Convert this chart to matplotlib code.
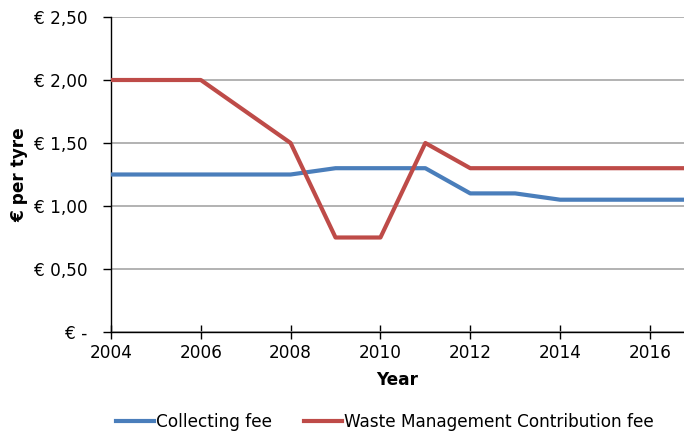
import matplotlib
matplotlib.use("Agg")
import matplotlib.pyplot as plt
from matplotlib.ticker import FuncFormatter

years = [2004, 2005, 2006, 2007, 2008, 2009, 2010, 2011, 2012, 2013, 2014, 2015, 2016, 2017]
collecting_fee = [1.25, 1.25, 1.25, 1.25, 1.25, 1.30, 1.30, 1.30, 1.10, 1.10, 1.05, 1.05, 1.05, 1.05]
wmc_fee = [2.00, 2.00, 2.00, 1.75, 1.50, 0.75, 0.75, 1.50, 1.30, 1.30, 1.30, 1.30, 1.30, 1.30]
x_ticks = [2004, 2006, 2008, 2010, 2012, 2014, 2016]
y_ticks = [0.0, 0.5, 1.0, 1.5, 2.0, 2.5]

blue = "#4a7ebb"
red = "#be4b48"
fs = 12.2

plt.rcParams["font.family"] = ["DejaVu Sans"]

fig = plt.figure(figsize=(6.84, 4.33), dpi=100)
ax = fig.add_axes([111 / 684, 1 - 332 / 433, 1 - 111 / 684, (332 - 17) / 433])

ax.plot(years, collecting_fee, color=blue, lw=3.0, label="Collecting fee", solid_joinstyle="round", zorder=3)
ax.plot(years, wmc_fee, color=red, lw=3.0, label="Waste Management Contribution fee", solid_joinstyle="round", zorder=3)

ax.set_xlim(2004, 2016.76)
ax.set_ylim(0, 2.5)
ax.set_xticks(x_ticks)
ax.set_yticks(y_ticks)


def euro(v, pos):
    if abs(v) < 1e-9:
        return "€ -"
    return "€ " + f"{v:.2f}".replace(".", ",")


ax.yaxis.set_major_formatter(FuncFormatter(euro))
ax.grid(axis="y", color="#a6a6a6", lw=1.2)
ax.set_axisbelow(True)

for side in ("top", "right"):
    ax.spines[side].set_visible(False)
for side in ("left", "bottom"):
    ax.spines[side].set_color("black")
    ax.spines[side].set_linewidth(1.0)

ax.tick_params(axis="y", direction="out", length=6, width=1, labelsize=fs, pad=11, colors="black")
ax.tick_params(axis="x", direction="inout", length=10, width=1, labelsize=fs, pad=4, colors="black")

ax.set_xlabel("Year", fontsize=fs, fontweight="bold", labelpad=6)
ax.set_ylabel("€ per tyre", fontsize=fs, fontweight="bold", labelpad=4)

fig.legend(loc="center", bbox_to_anchor=(0.563, 0.026), ncol=2, frameon=False,
           fontsize=fs, handlelength=2.2, handletextpad=0.15, columnspacing=1.9,
           borderpad=0, borderaxespad=0)

fig.savefig("out.png", dpi=100)
